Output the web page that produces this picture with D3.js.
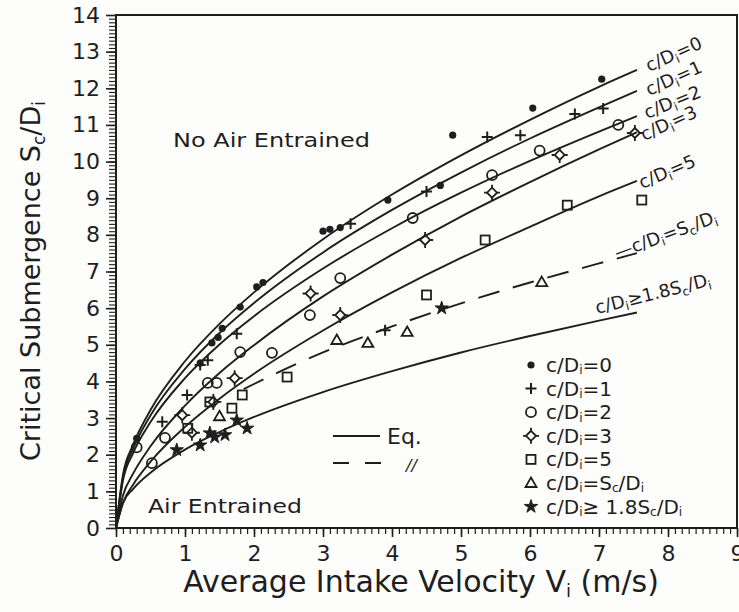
<!DOCTYPE html>
<html><head><meta charset="utf-8">
<script src="https://cdn.jsdelivr.net/npm/d3@7"></script>
<style>
body{margin:0;background:#fff}
svg{display:block}
text{font-family:"DejaVu Sans",sans-serif;fill:#1e1e1e}
</style></head>
<body><svg id="c" width="739" height="612"></svg>
<script>
// ---------- data ----------
const xTicks = [0,1,2,3,4,5,6,7,8,9];
const yTicks = [0,1,2,3,4,5,6,7,8,9,10,11,12,13,14];

// equation curves: V (m/s) grid and Sc/Di values
const vGrid = [0, 0.1, 0.25, 0.5, 1, 1.5, 2, 3, 4, 5, 6, 7, 7.55];
const eqC0  = [0, 1.44, 2.28, 3.22, 4.55, 5.57, 6.43, 7.88, 9.10, 10.17, 11.14, 12.04, 12.50];
const eqC1  = [0, 1.37, 2.17, 3.07, 4.34, 5.32, 6.14, 7.52, 8.68, 9.70, 10.63, 11.48, 11.93];
const eqC2  = [0, 1.29, 2.05, 2.89, 4.09, 5.01, 5.78, 7.08, 8.18, 9.15, 10.02, 10.82, 11.24];
const eqC3  = [0, 0.88, 1.49, 2.23, 3.34, 4.23, 4.99, 6.32, 7.46, 8.50, 9.44, 10.33, 10.80];
const eqC5  = [0, 0.68, 1.19, 1.81, 2.76, 3.53, 4.21, 5.39, 6.43, 7.37, 8.22, 9.05, 9.47];
const eqC18 = [0, 0.68, 1.07, 1.51, 2.14, 2.62, 3.03, 3.71, 4.28, 4.79, 5.24, 5.66, 5.88];
const vDash = [1.85, 2, 3, 4, 5, 6, 7, 7.55];
const eqSc  = [3.79, 3.93, 4.79, 5.50, 6.13, 6.70, 7.22, 7.50];

// measured points [V, Sc/Di]
const ptsC0 = [[0.3,2.45],[1.22,4.5],[1.39,5.05],[1.48,5.2],[1.54,5.45],[1.8,6.03],[2.04,6.58],[2.13,6.7],
  [3.0,8.1],[3.1,8.15],[3.25,8.2],[3.94,8.95],[4.7,9.35],[4.88,10.72],[6.04,11.46],[7.04,12.25]];
const ptsC1 = [[0.67,2.9],[1.03,3.63],[1.22,4.45],[1.33,4.58],[1.75,5.3],[3.4,8.3],[3.9,5.4],[4.5,9.18],
  [5.38,10.67],[5.86,10.72],[6.65,11.3],[7.06,11.45]];
const ptsC2 = [[0.3,2.2],[0.52,1.77],[0.71,2.46],[1.33,3.96],[1.46,3.96],[1.8,4.8],[2.26,4.78],[2.81,5.81],
  [3.25,6.82],[4.3,8.46],[5.45,9.63],[6.14,10.3],[7.28,11.0]];
const ptsC3 = [[0.96,3.08],[1.1,2.6],[1.41,3.44],[1.72,4.09],[2.82,6.4],[3.25,5.81],[4.48,7.86],
  [5.45,9.15],[6.43,10.18],[7.52,10.78]];
const ptsC5 = [[1.04,2.72],[1.36,3.44],[1.68,3.27],[1.83,3.63],[2.48,4.12],[4.5,6.36],[5.35,7.86],
  [6.54,8.81],[7.62,8.95]];
const ptsSc = [[1.5,3.05],[3.2,5.13],[3.65,5.05],[4.22,5.35],[6.17,6.71]];
const ptsC18 = [[0.88,2.13],[1.22,2.26],[1.36,2.59],[1.43,2.48],[1.58,2.54],[1.75,2.94],[1.9,2.72],[4.72,6.0]];

// ---------- drawing ----------
const ink = "#1e1e1e";
const svg = d3.select("#c");
svg.append("rect").attr("width",739).attr("height",612).attr("fill","#fdfdfc");

const x = d3.scaleLinear().domain([0,9]).range([116,737]);
const y = d3.scaleLinear().domain([0,14]).range([528,15]);

// axes
const gx = svg.append("g").attr("transform",`translate(0,${y(0)})`);
gx.call(d3.axisBottom(x).tickValues(d3.range(0,90.5,1).map(d=>d/10)).tickSize(6).tickFormat(""));
gx.selectAll(".tick line").attr("stroke",ink).attr("stroke-width",1.2);
const gx2 = svg.append("g").attr("transform",`translate(0,${y(0)})`);
gx2.call(d3.axisBottom(x).tickValues(xTicks).tickSize(9).tickPadding(8).tickFormat(d3.format("d")));
gx2.selectAll(".tick line").attr("stroke",ink).attr("stroke-width",1.6);
gx2.selectAll(".tick text").attr("font-size",22).attr("fill",ink).attr("font-family","DejaVu Sans");
svg.selectAll(".domain").remove();

const gy = svg.append("g").attr("transform",`translate(${x(0)},0)`);
gy.call(d3.axisLeft(y).tickValues(d3.range(0,140.5,1).map(d=>d/10)).tickSize(7).tickFormat(""));
gy.selectAll(".tick line").attr("stroke",ink).attr("stroke-width",1.1);
const gy2 = svg.append("g").attr("transform",`translate(${x(0)},0)`);
gy2.call(d3.axisLeft(y).tickValues(yTicks).tickSize(10).tickPadding(6).tickFormat(d3.format("d")));
gy2.selectAll(".tick line").attr("stroke",ink).attr("stroke-width",1.6);
gy2.selectAll(".tick text").attr("font-size",22).attr("fill",ink).attr("font-family","DejaVu Sans");
svg.selectAll(".domain").remove();

// frame
svg.append("path")
  .attr("d",`M${x(0)},${y(0)}H${x(9)}V${y(14)}H${x(0)}Z`)
  .attr("fill","none").attr("stroke",ink).attr("stroke-width",2);

// curves
const line = d3.line().x(d=>x(d[0])).y(d=>y(d[1])).curve(d3.curveMonotoneX);
const solid = [eqC0, eqC1, eqC2, eqC3, eqC5, eqC18];
solid.forEach(arr=>{
  svg.append("path").attr("d", line(vGrid.map((v,i)=>[v,arr[i]])))
    .attr("fill","none").attr("stroke",ink).attr("stroke-width",1.9);
});
svg.append("path").attr("d", line(vDash.map((v,i)=>[v,eqSc[i]])))
  .attr("fill","none").attr("stroke",ink).attr("stroke-width",1.9).attr("stroke-dasharray","22,14");

// markers
function drawMarker(g, type){
  const sw = 1.8;
  if(type==="dot") g.append("circle").attr("r",3.6).attr("fill",ink);
  else if(type==="plus") g.append("path").attr("d","M-5.5,0H5.5M0,-5.5V5.5").attr("stroke",ink).attr("stroke-width",2).attr("fill","none");
  else if(type==="circle") g.append("circle").attr("r",5).attr("fill","none").attr("stroke",ink).attr("stroke-width",sw);
  else if(type==="diamond"){
    g.append("path").attr("d","M0,-5L5,0L0,5L-5,0Z").attr("fill","none").attr("stroke",ink).attr("stroke-width",sw);
    g.append("path").attr("d","M-8,0H-5M5,0H8M0,-8V-5M0,5V8").attr("stroke",ink).attr("stroke-width",sw);
  }
  else if(type==="square") g.append("rect").attr("x",-4.5).attr("y",-4.5).attr("width",9).attr("height",9).attr("fill","none").attr("stroke",ink).attr("stroke-width",sw);
  else if(type==="triangle") g.append("path").attr("d","M0,-5.5L5.5,4L-5.5,4Z").attr("fill","none").attr("stroke",ink).attr("stroke-width",sw);
  else if(type==="star") g.append("path").attr("d",d3.symbol(d3.symbolStar,55)()).attr("fill",ink).attr("stroke",ink).attr("stroke-width",1);
}
const series = [[ptsC0,"dot"],[ptsC1,"plus"],[ptsC2,"circle"],[ptsC3,"diamond"],[ptsC5,"square"],[ptsSc,"triangle"],[ptsC18,"star"]];
series.forEach(([pts,type])=>{
  pts.forEach(p=>{
    const g = svg.append("g").attr("transform",`translate(${x(p[0])},${y(p[1])})`);
    drawMarker(g,type);
  });
});

// helper for text with subscripts: parts = [[text, isSub], ...]
function richText(sel, parts, subSize, shift){
  const s = shift || 0.3;
  parts.forEach(([t,sub],i)=>{
    const ts = sel.append("tspan").text(t);
    if(sub){ ts.attr("font-size",subSize).attr("dy",s+"em"); }
    else if(i>0 && parts[i-1][1]){ ts.attr("dy",(-s*subSize/ (+sel.attr("font-size")))+"em"); }
  });
  return sel;
}

// curve labels
const curveLabels = [
  {px:649,py:72,a:-24,parts:[["c/D",0],["i",1],["=0",0]]},
  {px:649,py:96,a:-24,parts:[["c/D",0],["i",1],["=1",0]]},
  {px:647,py:119,a:-22,parts:[["c/D",0],["i",1],["=2",0]]},
  {px:644,py:141,a:-24,parts:[["c/D",0],["i",1],["=3",0]]},
  {px:642,py:189,a:-23,parts:[["c/D",0],["i",1],["=5",0]]},
  {px:617,py:259,a:-20,parts:[["—c/D",0],["i",1],["=S",0],["c",1],["/D",0],["i",1]]},
  {px:597,py:314,a:-14,parts:[["c/D",0],["i",1],["≥1.8S",0],["c",1],["/D",0],["i",1]]}
];
curveLabels.forEach(l=>{
  const t = svg.append("text").attr("transform",`translate(${l.px},${l.py}) rotate(${l.a})`).attr("font-size",18);
  richText(t,l.parts,12);
});

// region texts
svg.append("text").attr("x",173).attr("y",147).attr("font-size",20).attr("textLength",197).attr("lengthAdjust","spacingAndGlyphs").text("No Air Entrained");
svg.append("text").attr("x",148).attr("y",513).attr("font-size",20).attr("textLength",154).attr("lengthAdjust","spacingAndGlyphs").text("Air Entrained");

// Eq. legend
svg.append("path").attr("d","M333,436H380").attr("stroke",ink).attr("stroke-width",1.9);
svg.append("text").attr("x",387).attr("y",444).attr("font-size",22).text("Eq.");
svg.append("path").attr("d","M333,463H383").attr("stroke",ink).attr("stroke-width",1.9).attr("stroke-dasharray","16,16");
svg.append("text").attr("x",406).attr("y",471).attr("font-size",16).attr("font-style","italic").text("//");

// symbol legend
const legendRows = [
  ["dot",[["c/D",0],["i",1],["=0",0]]],
  ["plus",[["c/D",0],["i",1],["=1",0]]],
  ["circle",[["c/D",0],["i",1],["=2",0]]],
  ["diamond",[["c/D",0],["i",1],["=3",0]]],
  ["square",[["c/D",0],["i",1],["=5",0]]],
  ["triangle",[["c/D",0],["i",1],["=S",0],["c",1],["/D",0],["i",1]]],
  ["star",[["c/D",0],["i",1],["≥ 1.8S",0],["c",1],["/D",0],["i",1]]]
];
legendRows.forEach(([type,parts],i)=>{
  const yy = 365 + i*23.6;
  const g = svg.append("g").attr("transform",`translate(531,${yy})`);
  drawMarker(g,type);
  const t = svg.append("text").attr("x",546).attr("y",yy+7).attr("font-size",20);
  richText(t,parts,12,0.2);
});

// axis titles
const xt = svg.append("text").attr("x",421).attr("y",592).attr("text-anchor","middle").attr("font-size",30);
richText(xt,[["Average Intake Velocity V",0],["i",1],[" (m/s)",0]],18);
const yt = svg.append("text").attr("transform","translate(40,281) rotate(-90)").attr("text-anchor","middle").attr("font-size",27);
richText(yt,[["Critical Submergence  S",0],["c",1],["/D",0],["i",1]],17);
</script>
</body></html>
